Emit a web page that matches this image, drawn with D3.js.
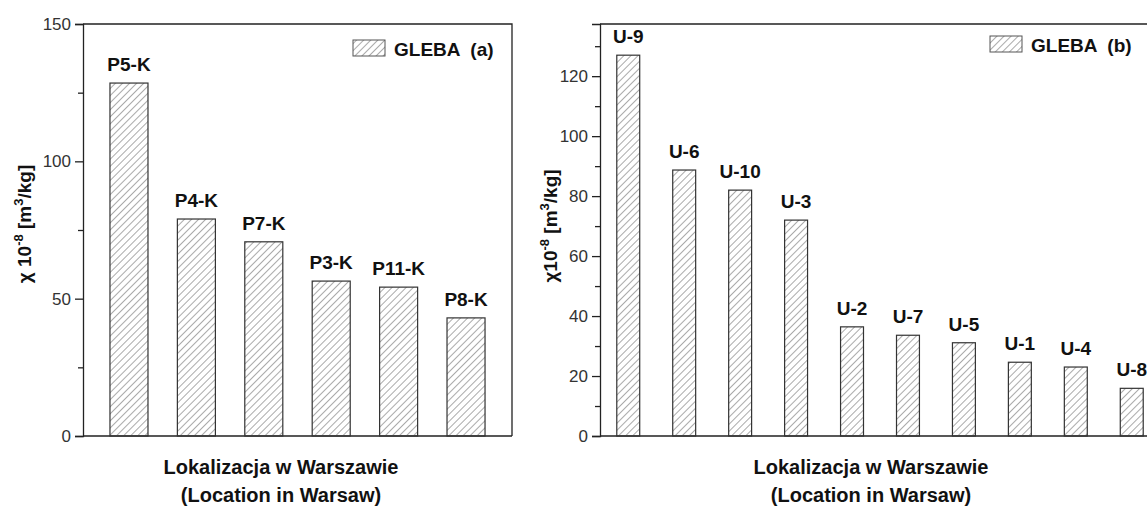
<!DOCTYPE html>
<html>
<head>
<meta charset="utf-8">
<script src="https://cdn.jsdelivr.net/npm/d3@7"></script>
<style>
  body { margin: 0; background: #fff; }
  text { font-family: "Liberation Sans", Arial, sans-serif; }
</style>
</head>
<body>
<script>
const width = 1147,
  height = 507;

// panel (a)
const sitesA = ["P5-K", "P4-K", "P7-K", "P3-K", "P11-K", "P8-K"];
const valuesA = [128.5, 79, 70.7, 56.4, 54.2, 43];
const ticksA = [0, 50, 100, 150];
const minorA = [25, 75, 125];

// panel (b)
const sitesB = ["U-9", "U-6", "U-10", "U-3", "U-2", "U-7", "U-5", "U-1", "U-4", "U-8"];
const valuesB = [127, 88.7, 82, 72, 36.4, 33.6, 31.1, 24.6, 23, 15.9];
const ticksB = [0, 20, 40, 60, 80, 100, 120];
const minorB = [10, 30, 50, 70, 90, 110, 130];

const svg = d3
  .select("body")
  .append("svg")
  .attr("width", width)
  .attr("height", height);

// hatch fill like the original origin plot
const defs = svg.append("defs");
defs
  .append("pattern")
  .attr("id", "hatch")
  .attr("patternUnits", "userSpaceOnUse")
  .attr("width", 5)
  .attr("height", 5)
  .attr("patternTransform", "rotate(45)")
  .append("line")
  .attr("x1", 0)
  .attr("y1", 0)
  .attr("x2", 0)
  .attr("y2", 5)
  .attr("stroke", "#555")
  .attr("stroke-width", 1);

function panel(opt) {
  const g = svg.append("g");
  const x = d3
    .scaleBand()
    .domain(opt.sites)
    .range([opt.left, opt.right])
    .paddingInner(opt.pin)
    .paddingOuter(opt.pout);
  const y = d3.scaleLinear().domain([0, opt.ymax]).range([436, 24]);

  // frame
  g.append("path")
    .attr("d", `M${opt.left},24H${opt.right}` + (opt.closed ? `V436` : "") + `M${opt.left},436H${opt.right}`)
    .attr("fill", "none")
    .attr("stroke", "#222")
    .attr("stroke-width", 1.3);

  // y axis with major and minor ticks
  const ax = g
    .append("g")
    .attr("transform", `translate(${opt.left},0)`)
    .call(d3.axisLeft(y).tickValues(opt.ticks).tickSize(8).tickPadding(4));
  ax.select(".domain").attr("stroke", "#222").attr("stroke-width", 1.3);
  ax.selectAll(".tick line").attr("stroke", "#222").attr("stroke-width", 1.3);
  ax.selectAll(".tick text")
    .attr("font-size", 17)
    .attr("fill", "#333")
    .style("font-family", "Liberation Sans, Arial, sans-serif");
  g.append("g")
    .attr("transform", `translate(${opt.left},0)`)
    .call(d3.axisLeft(y).tickValues(opt.minor).tickSize(5).tickFormat(""))
    .call((s) => s.select(".domain").remove())
    .selectAll(".tick line")
    .attr("stroke", "#222")
    .attr("stroke-width", 1.3);

  // bars
  g.selectAll("rect.bar")
    .data(opt.values)
    .join("rect")
    .attr("class", "bar")
    .attr("x", (d, i) => x(opt.sites[i]))
    .attr("y", (d) => y(d))
    .attr("width", x.bandwidth())
    .attr("height", (d) => 436 - y(d))
    .attr("fill", "url(#hatch)")
    .attr("stroke", "#333")
    .attr("stroke-width", 1.2);

  // site labels above bars
  g.selectAll("text.lab")
    .data(opt.values)
    .join("text")
    .attr("class", "lab")
    .attr("x", (d, i) => x(opt.sites[i]) + x.bandwidth() / 2)
    .attr("y", (d) => y(d) - 12)
    .attr("text-anchor", "middle")
    .attr("font-size", 19)
    .attr("font-weight", "bold")
    .attr("fill", "#111")
    .text((d, i) => opt.sites[i]);

  // legend
  g.append("rect")
    .attr("x", opt.legX)
    .attr("y", opt.legY)
    .attr("width", 32)
    .attr("height", 16)
    .attr("fill", "url(#hatch)")
    .attr("stroke", "#555")
    .attr("stroke-width", 1);
  g.append("text")
    .attr("x", opt.legX + 41)
    .attr("y", opt.legY + 16)
    .attr("font-size", 19)
    .attr("font-weight", "bold")
    .attr("fill", "#111")
    .attr("xml:space", "preserve")
    .text(opt.legend);

  // y title
  const yt = g
    .append("text")
    .attr("transform", `translate(${opt.ytx},${opt.yty}) rotate(-90)`)
    .attr("text-anchor", "middle")
    .attr("font-size", 19)
    .attr("font-weight", "bold")
    .attr("fill", "#111");
  yt.append("tspan").text(opt.ytPrefix);
  yt.append("tspan").attr("font-size", 13).attr("dy", -8).text("-8");
  yt.append("tspan").attr("dy", 8).text(" [m");
  yt.append("tspan").attr("font-size", 13).attr("dy", -8).text("3");
  yt.append("tspan").attr("dy", 8).text("/kg]");

  // x title
  g.append("text")
    .attr("x", opt.xtx)
    .attr("y", 474)
    .attr("text-anchor", "middle")
    .attr("font-size", 20)
    .attr("font-weight", "bold")
    .attr("fill", "#111")
    .text("Lokalizacja w Warszawie");
  g.append("text")
    .attr("x", opt.xtx)
    .attr("y", 502)
    .attr("text-anchor", "middle")
    .attr("font-size", 20)
    .attr("font-weight", "bold")
    .attr("fill", "#111")
    .text("(Location in Warsaw)");
}

panel({
  sites: sitesA,
  values: valuesA,
  ticks: ticksA,
  minor: minorA,
  ymax: 150,
  left: 83,
  right: 512,
  closed: true,
  pin: 0.436,
  pout: 0.4,
  legX: 353,
  legY: 40,
  legend: "GLEBA  (a)",
  ytx: 31,
  yty: 224,
  ytPrefix: "χ  10",
  xtx: 281,
});

panel({
  sites: sitesB,
  values: valuesB,
  ticks: ticksB,
  minor: minorB,
  ymax: 137.4,
  left: 600,
  right: 1160,
  closed: false,
  pin: 0.59,
  pout: 0.3,
  legX: 990,
  legY: 36,
  legend: "GLEBA  (b)",
  ytx: 557,
  yty: 226,
  ytPrefix: "χ10",
  xtx: 871,
});
</script>
</body>
</html>
